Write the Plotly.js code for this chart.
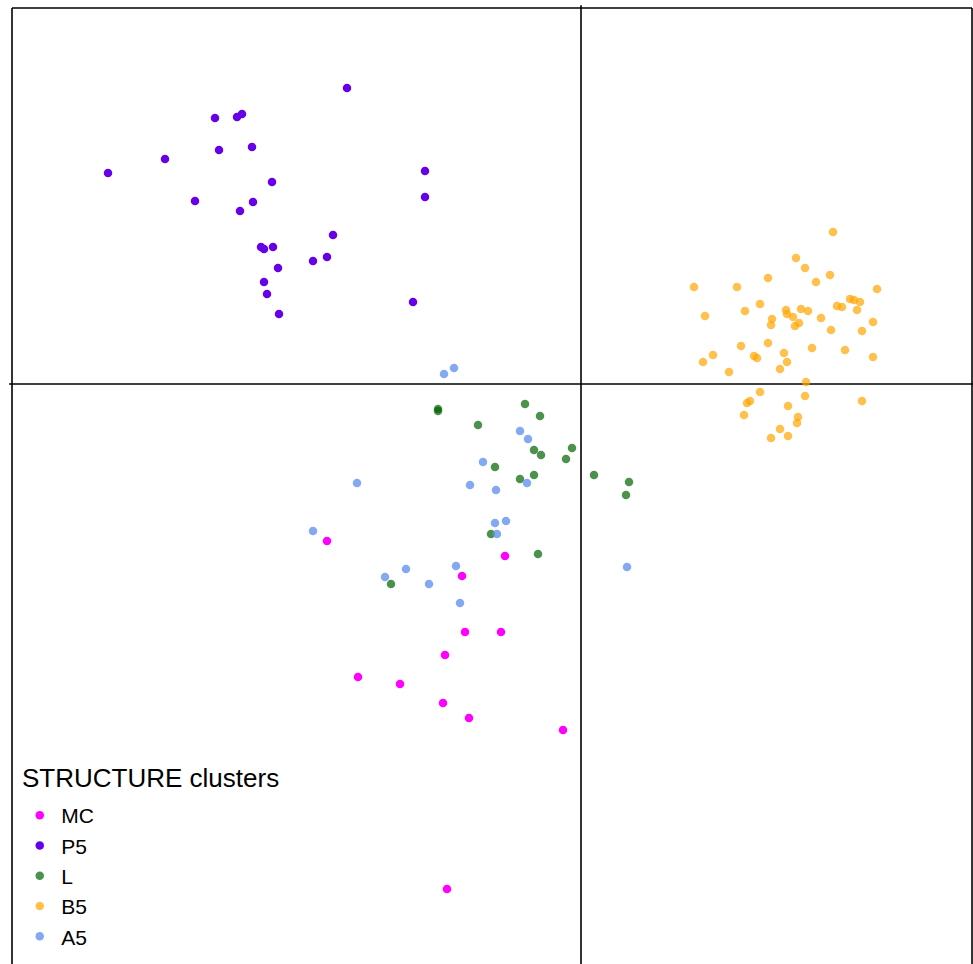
<!DOCTYPE html>
<html>
<head>
<meta charset="utf-8">
<script src="https://cdn.plot.ly/plotly-3.0.1.min.js"></script>
<style>html,body{margin:0;padding:0;background:#fff;}#chart{width:973px;height:964px;}</style>
</head>
<body>
<div id="chart"></div>
<script>
// Cluster scores (axis 1, axis 2)
const p5X = [-2.34,-3.66,-3.44,-3.39,-3.62,-3.29,-4.16,-4.73,-3.09,-1.56,-1.56,-3.86,-3.28,-3.41,-2.48,-3.20,-3.17,-3.08,-2.54,-2.68,-3.03,-3.17,-3.14,-1.68,-3.02];
const p5Y = [2.96,2.66,2.67,2.70,2.34,2.37,2.25,2.11,2.02,2.13,1.87,1.83,1.82,1.73,1.49,1.37,1.35,1.37,1.27,1.23,1.16,1.02,0.90,0.82,0.70];

const b5X = [2.52,2.15,2.24,2.49,1.87,2.35,1.13,1.56,2.96,2.69,2.73,2.79,1.79,2.56,2.61,1.64,2.05,2.06,2.20,2.27,2.76,1.24,1.91,2.12,2.40,1.90,2.18,2.14,2.92,2.50,2.81,1.87,1.60,2.31,2.64,1.32,1.22,1.73,1.76,2.03,2.06,2.92,1.48,1.99,2.25,1.79,2.24,2.81,1.69,1.66,2.07,1.63,2.17,2.16,1.99,1.90,2.07];
const b5Y = [1.52,1.26,1.16,1.09,1.06,1.02,0.97,0.97,0.95,0.85,0.84,0.82,0.80,0.78,0.77,0.73,0.74,0.70,0.75,0.73,0.74,0.68,0.65,0.67,0.66,0.59,0.61,0.58,0.62,0.54,0.53,0.41,0.38,0.36,0.34,0.29,0.22,0.28,0.26,0.31,0.22,0.27,0.12,0.15,0.02,-0.08,-0.12,-0.17,-0.17,-0.19,-0.22,-0.31,-0.33,-0.39,-0.45,-0.54,-0.52];

const lX = [-1.43,-1.43,-0.56,-0.41,-1.03,-0.09,-0.47,-0.40,-0.15,-0.86,-0.47,-0.61,0.13,0.48,0.45,-0.90,-0.43,-1.90];
const lY = [-0.25,-0.27,-0.20,-0.32,-0.41,-0.64,-0.66,-0.71,-0.75,-0.83,-0.91,-0.95,-0.91,-0.98,-1.11,-1.50,-1.70,-2.00];

const a5X = [-1.37,-1.27,-0.61,-0.53,-0.98,-2.24,-1.11,-0.85,-0.54,-0.75,-0.86,-0.84,-2.68,0.46,-1.25,-1.75,-1.96,-1.52,-1.21];
const a5Y = [0.10,0.16,-0.47,-0.55,-0.78,-0.99,-1.01,-1.06,-0.99,-1.37,-1.39,-1.50,-1.47,-1.83,-1.82,-1.85,-1.93,-2.00,-2.19];

const mcX = [-2.54,-0.76,-1.19,-1.16,-0.80,-1.36,-2.23,-1.81,-1.38,-1.12,-0.18,-1.34];
const mcY = [-1.57,-1.72,-1.92,-2.48,-2.48,-2.71,-2.93,-3.00,-3.19,-3.34,-3.46,-5.05];

const clusterNames = ['MC','P5','L','B5','A5'];
const legendTitle = 'STRUCTURE clusters';

const xRange = [-5.69, 3.91];
const yRange = [-5.80, 3.76];

const mk = (name, x, y, color, opacity, rank) => ({
  type: 'scatter', mode: 'markers', name: name, x: x, y: y,
  marker: {color: color, size: 8.5, opacity: opacity, line: {width: 0}},
  legendrank: rank, hoverinfo: 'x+y+name'
});

const traces = [
  mk(clusterNames[1], p5X, p5Y, '#6600e6', 1, 2),
  mk(clusterNames[3], b5X, b5Y, '#ffa500', 0.7, 4),
  mk(clusterNames[2], lX, lY, '#006400', 0.7, 3),
  mk(clusterNames[4], a5X, a5Y, '#6495ed', 0.8, 5),
  mk(clusterNames[0], mcX, mcY, '#ff00ff', 1, 1)
];

const zx = -xRange[0] / (xRange[1] - xRange[0]);
const zy = -yRange[0] / (yRange[1] - yRange[0]);
const lineStyle = {color: '#000', width: 1.6};

const layout = {
  width: 973, height: 964,
  margin: {l: 12, r: 1, t: 8, b: 0, pad: 0},
  paper_bgcolor: '#fff', plot_bgcolor: '#fff',
  font: {family: 'Arial, "Liberation Sans", sans-serif', color: '#000'},
  showlegend: true,
  xaxis: {range: xRange, showgrid: false, zeroline: false, showticklabels: false, ticks: '', showline: false, fixedrange: true},
  yaxis: {range: yRange, showgrid: false, zeroline: false, showticklabels: false, ticks: '', showline: false, fixedrange: true},
  legend: {
    x: 0.0065, xanchor: 'left', y: 0.1768, yanchor: 'top',
    bgcolor: 'rgba(0,0,0,0)', borderwidth: 0,
    font: {size: 21, color: '#000'},
    itemwidth: 33,
    traceorder: 'normal'
  },
  annotations: [
    {text: legendTitle, xref: 'paper', yref: 'paper', x: 0.0094, xanchor: 'left', y: 0.1946, yanchor: 'middle',
     showarrow: false, font: {size: 26, color: '#000'}, borderpad: 0}
  ],
  shapes: [
    {type: 'line', xref: 'paper', yref: 'paper', x0: 0, x1: 1, y0: 1, y1: 1, line: lineStyle},
    {type: 'line', xref: 'paper', yref: 'paper', x0: 0, x1: 0, y0: 0, y1: 1, line: lineStyle},
    {type: 'line', xref: 'paper', yref: 'paper', x0: 1, x1: 1, y0: 0, y1: 1, line: lineStyle},
    {type: 'line', xref: 'paper', yref: 'paper', x0: zx, x1: zx, y0: 0, y1: 1.003, line: lineStyle, layer: 'below'},
    {type: 'line', xref: 'paper', yref: 'paper', x0: -0.003, x1: 1.001, y0: zy, y1: zy, line: lineStyle, layer: 'below'}
  ]
};

Plotly.newPlot('chart', traces, layout, {displayModeBar: false, staticPlot: true});
</script>
</body>
</html>
